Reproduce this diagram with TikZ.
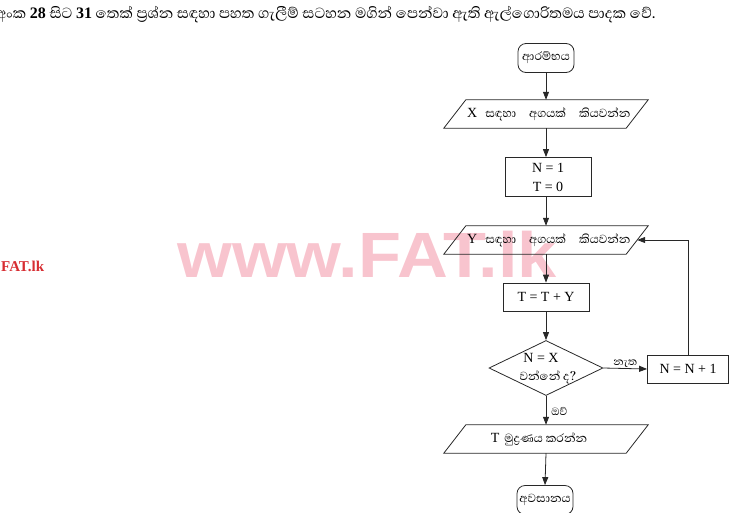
\documentclass[tikz,border=0pt]{standalone}
\usepackage{fontspec}
\usepackage{graphicx}
\setmainfont{Liberation Serif}
\newfontfamily\sinhalafont[Script=Sinhala]{Abhaya Libre}
\newfontfamily\wmfont{Liberation Sans}
\usetikzlibrary{shapes.geometric,arrows.meta}
\definecolor{wmpink}{RGB}{248,196,206}
\definecolor{wmred}{RGB}{215,45,50}
\definecolor{ink}{RGB}{40,40,40}
\tikzset{
  flow/.style={draw=ink, line width=0.8pt},
  term/.style={flow, rounded corners=8pt, minimum width=56pt, minimum height=29pt, inner sep=0pt},
  procbox/.style={flow, minimum width=86pt, inner sep=0pt, font=\fontsize{14}{19}\selectfont, align=center},
  iobox/.style={minimum width=204pt, minimum height=28pt, inner sep=0pt},
  arr/.style={draw=ink, line width=0.8pt, -{Triangle[length=8pt,width=6pt]}},
  si/.style={font=\sinhalafont\fontsize{15}{17}\selectfont},
  lbl/.style={font=\sinhalafont\fontsize{13.5}{15}\selectfont, inner sep=1pt}
}
\newcommand{\drawio}[1]{\draw[flow] ([xshift=22pt]#1.north west) -- (#1.north east) -- ([xshift=-22pt]#1.south east) -- (#1.south west) -- cycle;}
\begin{document}
\begin{tikzpicture}[x=1pt,y=-1pt]
\useasboundingbox (0,0) rectangle (736,512);
% watermark
\node[font=\wmfont\bfseries\fontsize{64}{64}\selectfont, text=wmpink, inner sep=0pt] (wm) at (367,254) {\scalebox{1.1}[1]{www.FAT.lk}};
\node[font=\bfseries\fontsize{15}{16}\selectfont, text=wmred, anchor=west, inner sep=0pt] (wm2) at (1,266) {FAT.lk};
% header
\node[anchor=west, inner sep=0pt, font=\sinhalafont\fontsize{18.8}{20}\selectfont] (hdr) at (-4,15)
  {අංක {\rmfamily\bfseries\fontsize{16}{17}\selectfont 28} සිට {\rmfamily\bfseries\fontsize{16}{17}\selectfont 31} තෙක් ප්‍රශ්න සඳහා පහත ගැලීම් සටහන මගින් පෙන්වා ඇති ඇල්ගොරිතමය පාදක වේ.};
% flowchart
\node[term, si] (start) at (546,58) {ආරම්භය};
\node[iobox] (in1) at (546,114) {};
\drawio{in1}
\node[anchor=west, inner sep=0pt] (in1t) at (467,114) {{\fontsize{14}{14}\selectfont X}\hspace{8pt}{\sinhalafont\fontsize{15}{17}\selectfont සඳහා\hspace{13pt}අගයක්\hspace{13pt}කියවන්න}};
\node[procbox, minimum height=39pt] (init) at (548,177) {N = 1\\T = 0};
\node[iobox] (in2) at (546,240) {};
\drawio{in2}
\node[anchor=west, inner sep=0pt] (in2t) at (467,240) {{\fontsize{14}{14}\selectfont Y}\hspace{8pt}{\sinhalafont\fontsize{15}{17}\selectfont සඳහා\hspace{13pt}අගයක්\hspace{13pt}කියවන්න}};
\node[procbox, minimum height=28pt] (add) at (546,297) {T = T + Y};
\node[flow, diamond, minimum width=114pt, minimum height=55pt, inner sep=0pt] (dec) at (546,368) {};
\node[font=\fontsize{14}{14}\selectfont, inner sep=0pt] (dect1) at (541,358) {N = X};
\node[si, inner sep=0pt] (dect2) at (548,377) {වන්නේ ද?};
\node[procbox, minimum width=81pt, minimum height=28pt] (inc) at (688,369) {N = N + 1};
\node[iobox] (out) at (546,439) {};
\drawio{out}
\node[inner sep=0pt] (outt) at (539,439) {{\fontsize{14}{14}\selectfont T}\hspace{5pt}{\sinhalafont\fontsize{15}{17}\selectfont මුද්‍රණය කරන්න}};
\node[term, si] (stop) at (545,500) {අවසානය};
% connectors
\draw[arr] (start.south) -- (start.south |- in1.north);
\draw[arr] (in1.south) -- (in1.south |- init.north);
\draw[arr] (init.south -| in1.south) -- (in2.north);
\draw[arr] (in2.south) -- (add.north);
\draw[arr] (add.south) -- (dec.north);
\draw[arr] (dec.east) -- node[lbl, above] (no) {නැත} (inc.west);
\draw[arr] (inc.north) |- ([xshift=-11pt]in2.east);
\draw[arr] (dec.south) -- node[lbl, right, xshift=4pt, yshift=-1pt] (yes) {ඔව්} (out.north);
\draw[arr] (out.south) -- (stop.north);
\end{tikzpicture}
\end{document}
